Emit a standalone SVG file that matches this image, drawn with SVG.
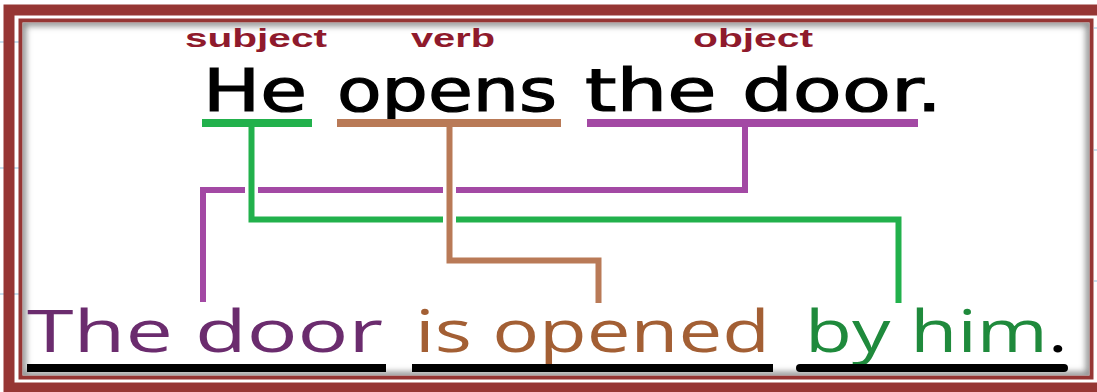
<svg xmlns="http://www.w3.org/2000/svg" width="1097" height="392" viewBox="0 0 1097 392">
  <style>
    .frame { fill: none; stroke: #963634; }
    .tick { stroke: #b4d6ea; stroke-width: 1.5; }
    .label { font-family: "Liberation Sans", Arial, sans-serif; font-weight: bold; font-size: 25px; fill: #8f1a2c; }
    .active { font-family: "DejaVu Sans", sans-serif; font-size: 58px; fill: #000; stroke: #000; stroke-width: 1.2; }
    .passive { font-family: "Open Sans", "DejaVu Sans", sans-serif; font-size: 58px; }
    .ul { fill: none; stroke-width: 8; stroke-linecap: butt; }
    .conn { fill: none; stroke-width: 6; stroke-linejoin: miter; stroke-linecap: butt; }
    .green { stroke: #22b14c; }
    .brown { stroke: #b97a57; }
    .purple { stroke: #a349a4; }
    .bar { fill: none; stroke: #000; stroke-width: 8; }
  </style>
  <defs>
    <clipPath id="inner">
      <rect x="22.5" y="22.5" width="1067" height="353"/>
    </clipPath>
    <filter id="blur" x="-5%" y="-5%" width="110%" height="110%">
      <feGaussianBlur stdDeviation="3"/>
    </filter>
  </defs>

  <rect x="0" y="0" width="1097" height="392" fill="#ffffff"/>

  <!-- background ticks -->
  <g id="ticks">
    <line class="tick" x1="0" y1="42" x2="19" y2="42"/>
    <line class="tick" x1="0" y1="168" x2="19" y2="168"/>
    <line class="tick" x1="0" y1="294" x2="19" y2="294"/>
    <line class="tick" x1="1094" y1="28" x2="1097" y2="28"/>
    <line class="tick" x1="1094" y1="150" x2="1097" y2="150"/>
    <line class="tick" x1="1094" y1="281" x2="1097" y2="281"/>
  </g>

  <!-- frame -->
  <g id="frame">
    <rect class="frame" x="9" y="10" width="1100" height="378" stroke-width="11"/>
    <rect class="frame" x="20.5" y="20.5" width="1071" height="357" stroke-width="4"/>
    <g clip-path="url(#inner)">
      <rect x="22.5" y="22.5" width="1067" height="353" fill="none" stroke="#8a8a8a" stroke-width="7" filter="url(#blur)"/>
    </g>
  </g>

  <!-- labels -->
  <g id="label-subject"><text class="label" x="185" y="47" textLength="142" lengthAdjust="spacingAndGlyphs">subject</text></g>
  <g id="label-verb"><text class="label" x="411" y="47" textLength="84" lengthAdjust="spacingAndGlyphs">verb</text></g>
  <g id="label-object"><text class="label" x="693" y="47" textLength="120" lengthAdjust="spacingAndGlyphs">object</text></g>

  <!-- active sentence -->
  <g id="active-he">
    <text class="active" x="203" y="111" textLength="104" lengthAdjust="spacingAndGlyphs">He</text>
    <line class="ul green" x1="202" y1="123" x2="312" y2="123"/>
  </g>
  <g id="active-opens">
    <text class="active" x="337" y="111" textLength="220" lengthAdjust="spacingAndGlyphs">opens</text>
    <line class="ul brown" x1="337" y1="123" x2="561" y2="123"/>
  </g>
  <g id="active-the-door">
    <text class="active" x="585" y="111" textLength="357" lengthAdjust="spacingAndGlyphs">the door.</text>
    <line class="ul purple" x1="587" y1="123" x2="918" y2="123"/>
  </g>

  <!-- connectors -->
  <g id="connectors">
    <path class="conn purple" d="M745,123 V190 H456 M443,190 H258 M245,190 H203 V302"/>
    <path class="conn green" d="M251.5,123 V219.5 H443 M456,219.5 H898.5 V303"/>
    <path class="conn brown" d="M449.5,123 V260.5 H598.5 V303"/>
  </g>

  <!-- passive sentence -->
  <g id="passive-the-door">
    <text class="passive" x="27" y="352" fill="#6b2c6e" textLength="356" lengthAdjust="spacingAndGlyphs">The door</text>
    <line class="bar" x1="27" y1="368" x2="386" y2="368"/>
  </g>
  <g id="passive-is-opened">
    <text class="passive" x="415" y="352" fill="#a35f34" textLength="355" lengthAdjust="spacingAndGlyphs">is opened</text>
    <line class="bar" x1="412" y1="368" x2="773" y2="368"/>
  </g>
  <g id="passive-by-him">
    <text class="passive" x="805" y="352" fill="#1f8a3c" textLength="263" lengthAdjust="spacingAndGlyphs">by him<tspan fill="#000">.</tspan></text>
    <line class="bar" x1="800" y1="368" x2="1064" y2="368" stroke-linecap="round"/>
  </g>
</svg>
